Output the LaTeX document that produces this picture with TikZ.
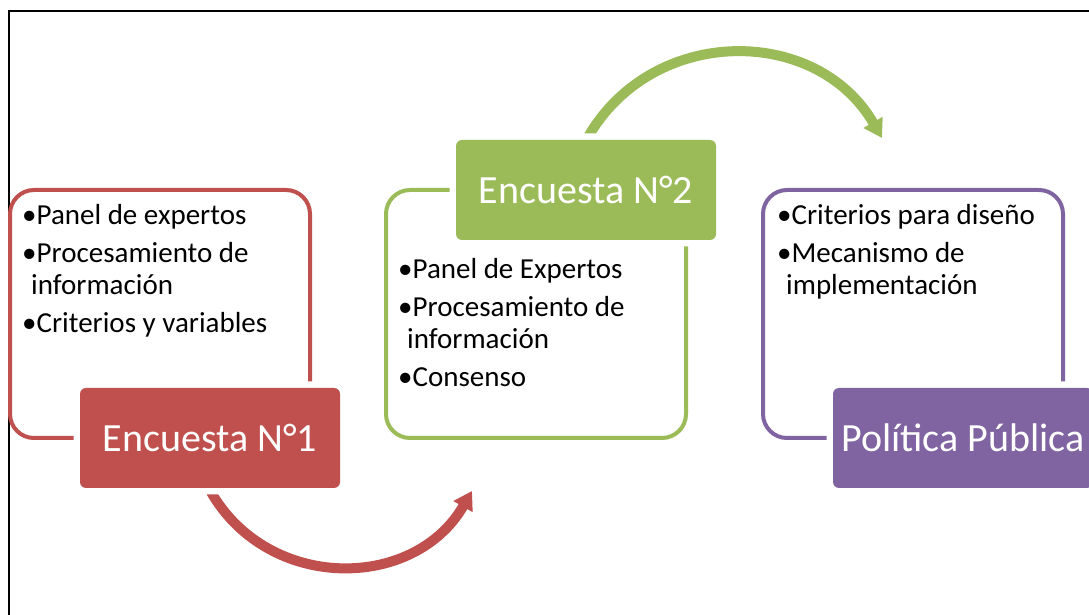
\documentclass[tikz,border=0pt]{standalone}
\usepackage{fontspec}
\setmainfont{Carlito}
\usetikzlibrary{arrows.meta,positioning}
\definecolor{encred}{HTML}{C0504D}
\definecolor{encgreen}{HTML}{9BBB59}
\definecolor{encpurple}{HTML}{8064A2}

\begin{document}
\begin{tikzpicture}[x=1pt,y=1pt,
		outline/.style={draw=#1,line width=4pt,rounded corners=24pt,minimum width=300pt,minimum height=248pt,inner sep=0pt,outer sep=0pt},
		title/.style={fill=#1,preaction={draw=white,line width=13pt},rounded corners=6pt,minimum width=260pt,minimum height=100pt,outer sep=0pt,text=white,font=\fontsize{40}{48}\selectfont},
		items/.style={align=left,anchor=base west,inner sep=0pt,font=\fontsize{29}{32}\selectfont},
		flow/.style={draw=#1,line width=10pt,-{Triangle[width=21pt,length=18pt]},looseness=1.13}]
			\useasboundingbox (0,0) rectangle (1089,615);
			\draw[line width=2.5pt] (9,-5) |- (1095,604);
			% outlined boxes
			\node[outline=encred] (box_1) at (160,301) {};
			\node[outline=encgreen] (box_2) at (536,301) {};
			\node[outline=encpurple] (box_3) at (913,301) {};
			% arrow ends
			\coordinate (a_1) at (211,123);
			\coordinate (a_2) at (472,124);
			\coordinate (b_1) at (588,478);
			\coordinate (b_2) at (882,477);
			\path
				(a_1) edge [flow=encred,out=-60,in=-120] (a_2)
				(b_1) edge [flow=encgreen,out=60,in=120] (b_2);
			% titles
			\node[title=encred] (enc_1) at ([xshift=50pt]box_1.south) {Encuesta N°1};
			\node[title=encgreen] (enc_2) at ([xshift=50pt]box_2.north) {Encuesta N°2};
			\node[title=encpurple] (pol) at ([xshift=50pt]box_3.south) {Política Pública};
			% bullet texts (anchored at the last line)
			\node[items] (txt_1) at (22,282) {•Panel de expertos\\[6pt]•Procesamiento de\\\hspace*{9pt}información\\[6pt]•Criterios y variables};
			\node[items] (txt_2) at (398,228) {•Panel de Expertos\\[6pt]•Procesamiento de\\\hspace*{9pt}información\\[6pt]•Consenso};
			\node[items] (txt_3) at (777,320) {•Criterios para diseño\\[6pt]•Mecanismo de\\\hspace*{9pt}implementación};
		\end{tikzpicture}
\end{document}
